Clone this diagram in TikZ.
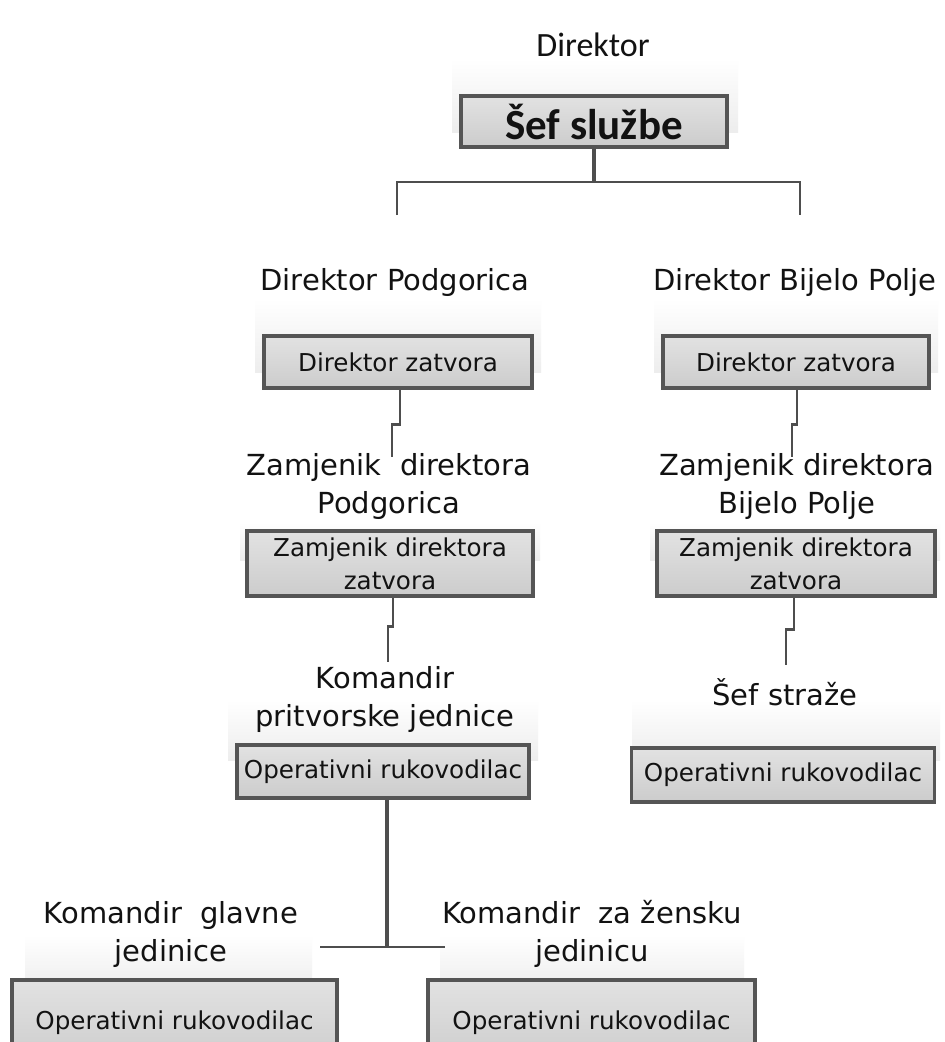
\documentclass[tikz,border=0pt]{standalone}
\usepackage{fontspec}
\setmainfont{DejaVu Sans}
\newfontfamily\calibfont{Carlito}
\usetikzlibrary{calc}
\definecolor{boxline}{HTML}{555555}
\definecolor{boxtop}{HTML}{E2E2E2}
\definecolor{boxbot}{HTML}{CCCCCC}
\definecolor{conncol}{HTML}{4E4E4E}
\definecolor{bandcol}{HTML}{EDEDED}
\definecolor{txt}{HTML}{121212}
\newcommand\labfont{\fontsize{29}{38}\selectfont}
\newcommand\boxfont{\fontsize{24.6}{33}\selectfont}
\tikzset{
  orgbox/.style={draw=boxline, line width=3.2pt, top color=boxtop, bottom color=boxbot,
    inner sep=0pt, align=center, text=txt, font=\boxfont},
  orglabel/.style={inner sep=0pt, align=center, text=txt, font=\labfont},
  band/.style={top color=white, bottom color=bandcol, draw=none},
  conn/.style={draw=conncol, line width=2.6pt},
  thickconn/.style={draw=conncol, line width=4.8pt},
}
\begin{document}
\begin{tikzpicture}[x=1pt,y=-1pt]
\useasboundingbox (0,0) rectangle (945,1042);
\clip (0,0) rectangle (945,1042);
\fill[white] (0,0) rectangle (945,1042);

% background bands
\fill[band] (452,58) rectangle (738,132);
\fill[band] (255,298) rectangle (541,372);
\fill[band] (654,298) rectangle (938,372);
\fill[band] (240,522) rectangle (540,560);
\fill[band] (650,522) rectangle (940,560);
\fill[band] (228,700) rectangle (538,760);
\fill[band] (632,700) rectangle (940,760);
\fill[band] (25,935) rectangle (312,990);
\fill[band] (440,935) rectangle (744,990);

% top
\node[orglabel, font=\calibfont\fontsize{34}{40}\selectfont] (dirtop) at (593,45) {Direktor};
\node[orgbox, minimum width=266, minimum height=51, font=\calibfont\bfseries\fontsize{43}{48}\selectfont] (sef) at (594,121.5) {Šef službe};

% second level
\node[orglabel] (dpglab) at (395,282) {Direktor Podgorica};
\node[orgbox, minimum width=268, minimum height=52] (dz1) at (398,362) {Direktor zatvora};
\node[orglabel] (dbplab) at (795,282) {Direktor Bijelo Polje};
\node[orgbox, minimum width=266, minimum height=52] (dz2) at (796,362) {Direktor zatvora};

% third level
\node[orglabel] (zpglab) at (389,486) {Zamjenik\ \ direktora\\Podgorica};
\node[orgbox, minimum width=286, minimum height=65] (zz1) at (390,563.5) {Zamjenik direktora\\zatvora};
\node[orglabel] (zbplab) at (797,486) {Zamjenik direktora\\Bijelo Polje};
\node[orgbox, minimum width=278, minimum height=65] (zz2) at (796,563.5) {Zamjenik direktora\\zatvora};

% fourth level
\node[orglabel] (kplab) at (385,699) {Komandir\\pritvorske jednice};
\node[orgbox, minimum width=292, minimum height=53] (op1) at (383,771.5) {Operativni rukovodilac};
\node[orglabel] (sslab) at (785,692) {Šef straže};
\node[orgbox, minimum width=303, minimum height=54] (op2) at (783,775) {Operativni rukovodilac};

% bottom level
\node[orglabel] (kglab) at (171,934) {Komandir\ \ glavne\\jedinice};
\node[orgbox, minimum width=325, minimum height=86] (op3) at (174.5,1023) {Operativni rukovodilac};
\node[orglabel] (kzlab) at (592,934) {Komandir\ \ za žensku\\jedinicu};
\node[orgbox, minimum width=327, minimum height=86] (op4) at (591.5,1023) {Operativni rukovodilac};

% connectors: top bracket
\coordinate (bj) at (594,182);
\coordinate (bl) at (397,215);
\coordinate (br) at (800,215);
\draw[thickconn] (sef.south) -- (bj);
\draw[conn] (bl) -- (bl |- bj) -- (br |- bj) -- (br);

% jogged connectors
\draw[conn] (dz1.south) ++(2,0) -- ++(0,35) -- ++(-8,0) -- ++(0,32);
\draw[conn] (dz2.south) ++(1,0) -- ++(0,35) -- ++(-5,0) -- ++(0,32);
\draw[conn] (zz1.south) ++(3,0) -- ++(0,29) -- ++(-5,0) -- ++(0,35);
\draw[conn] (zz2.south) ++(-2,0) -- ++(0,32) -- ++(-8,0) -- ++(0,35);

% bottom tree
\coordinate (bj2) at (387,947);
\coordinate (hl) at (320,947);
\coordinate (hr) at (445,947);
\draw[thickconn] (op1.south -| bj2) -- (bj2);
\draw[conn] (hl) -- (hr);
\end{tikzpicture}
\end{document}
